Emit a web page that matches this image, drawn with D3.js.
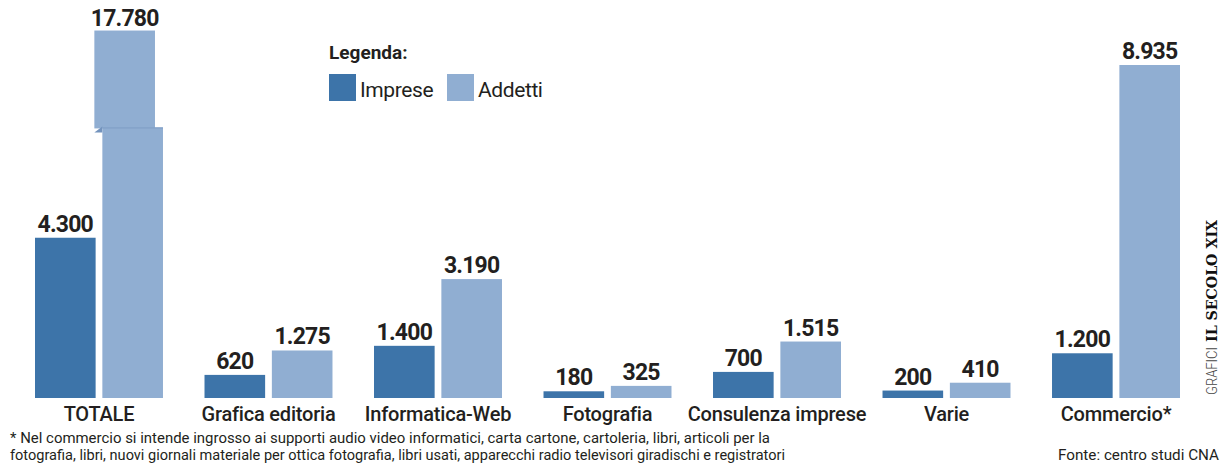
<!DOCTYPE html>
<html>
<head>
<meta charset="utf-8">
<script src="https://cdn.jsdelivr.net/npm/d3@7"></script>
<style>
  body { margin: 0; background: #fff; }
  svg { display: block; }
  text { font-family: Roboto, "Noto Sans", sans-serif; fill: #231f20; }
</style>
</head>
<body>
<svg width="1221" height="467"></svg>
<script>
var categories = ["TOTALE", "Grafica editoria", "Informatica-Web", "Fotografia", "Consulenza imprese", "Varie", "Commercio*"];
var series = ["Imprese", "Addetti"];
var imprese = [4300, 620, 1400, 180, 700, 200, 1200];
var addetti = [17780, 1275, 3190, 325, 1515, 410, 8935];

var footnote = [
  "* Nel commercio si intende ingrosso ai supporti audio video informatici, carta cartone, cartoleria, libri, articoli per la",
  "fotografia, libri, nuovi giornali materiale per ottica fotografia, libri usati, apparecchi radio televisori giradischi e registratori"
];
var source = "Fonte: centro studi CNA";

var svg = d3.select("svg"),
    width = +svg.attr("width"),
    height = +svg.attr("height");

var color = d3.scaleOrdinal().domain(series).range(["#3d74a9", "#90aed2"]);

var it = d3.formatLocale({decimal: ",", thousands: ".", grouping: [3], currency: ["€", ""]});
var fmt = it.format(",");

var data = categories.map(function(c, i) {
  return {cat: c, values: [{key: "Imprese", v: imprese[i]}, {key: "Addetti", v: addetti[i]}]};
});

var x0 = d3.scaleBand()
    .domain(categories)
    .range([35, 1180])
    .paddingInner(0.245)
    .paddingOuter(0);

var x1 = d3.scaleBand()
    .domain(series)
    .range([0, x0.bandwidth()])
    .paddingInner(0.1);

var baseline = 398;
var y = d3.scaleLinear()
    .domain([0, 8935])
    .range([baseline, 65]);

// axis break for the oversized bar
var breakLow = 7260,   // where the lower piece stops
    breakCut = 7920,   // value removed by the break
    breakDx = -8;      // upper piece offset

var g = svg.append("g");

var groups = g.selectAll(".grp")
    .data(data)
  .enter().append("g")
    .attr("class", "grp")
    .attr("transform", function(d) { return "translate(" + x0(d.cat) + ",0)"; });

var bars = groups.selectAll(".bar")
    .data(function(d) { return d.values; })
  .enter().append("g")
    .attr("class", "bar");

function valueLabel(sel, cx, cy, v) {
  sel.append("text")
    .attr("x", cx)
    .attr("y", cy)
    .attr("text-anchor", "middle")
    .style("font-size", "23px")
    .style("font-weight", 700)
    .style("letter-spacing", "-0.8px")
    .text(fmt(v));
}

bars.each(function(d) {
  var sel = d3.select(this),
      bx = x1(d.key),
      bw = x1.bandwidth();
  if (d.v <= y.domain()[1]) {
    sel.append("rect")
      .attr("x", bx)
      .attr("y", y(d.v))
      .attr("width", bw)
      .attr("height", baseline - y(d.v))
      .attr("fill", color(d.key));
    valueLabel(sel, bx + bw / 2, y(d.v) - 6, d.v);
  } else {
    var topY = y(d.v - breakCut),
        cutY = y(breakLow);
    // upper piece
    sel.append("rect")
      .attr("x", bx + breakDx)
      .attr("y", topY)
      .attr("width", bw)
      .attr("height", cutY - topY + 1)
      .attr("fill", color(d.key));
    // little fold
    sel.append("path")
      .attr("d", "M" + (bx + breakDx) + "," + (cutY + 5) + "L" + bx + "," + (cutY - 1) + "L" + bx + "," + (cutY + 5) + "Z")
      .attr("fill", "#7393bd");
    // lower piece
    sel.append("rect")
      .attr("x", bx)
      .attr("y", cutY)
      .attr("width", bw)
      .attr("height", baseline - cutY)
      .attr("fill", color(d.key));
    sel.append("line")
      .attr("x1", bx).attr("x2", bx + bw)
      .attr("y1", cutY + 0.5).attr("y2", cutY + 0.5)
      .attr("stroke", "#7e9cc5");
    valueLabel(sel, bx + breakDx + bw / 2, topY - 5, d.v);
  }
});

// category labels
groups.append("text")
    .attr("x", x0.bandwidth() / 2)
    .attr("y", 421)
    .attr("text-anchor", "middle")
    .style("font-size", "20px")
    .style("font-weight", 500)
    .style("letter-spacing", "-0.2px")
    .text(function(d) { return d.cat; });

// legend
var legend = svg.append("g").attr("transform", "translate(329,0)");
legend.append("text")
    .attr("x", 0)
    .attr("y", 59)
    .style("font-size", "19px")
    .style("font-weight", 700)
    .text("Legenda:");

var li = legend.selectAll(".li")
    .data(series)
  .enter().append("g")
    .attr("class", "li")
    .attr("transform", function(d, i) { return "translate(" + (i * 118) + ",74)"; });
li.append("rect")
    .attr("width", 27)
    .attr("height", 27)
    .attr("fill", function(d) { return color(d); });
li.append("text")
    .attr("x", 31)
    .attr("y", 23)
    .style("font-size", "21px")
    .style("letter-spacing", "-0.4px")
    .text(function(d) { return d; });

// footnote
svg.selectAll(".foot")
    .data(footnote)
  .enter().append("text")
    .attr("class", "foot")
    .attr("x", 10)
    .attr("y", function(d, i) { return 443 + i * 17; })
    .attr("textLength", function(d, i) { return i === 0 ? 760 : 775; })
    .attr("lengthAdjust", "spacingAndGlyphs")
    .style("font-size", "15px")
    .text(function(d) { return d; });

svg.append("text")
    .attr("x", 1219)
    .attr("y", 460)
    .attr("text-anchor", "end")
    .attr("textLength", 161)
    .attr("lengthAdjust", "spacingAndGlyphs")
    .style("font-size", "15px")
    .text(source);

// vertical credit
var credit = svg.append("g").attr("transform", "translate(1217,395) rotate(-90)");
credit.append("text")
    .attr("x", 0)
    .attr("y", 0)
    .attr("textLength", 48)
    .attr("lengthAdjust", "spacingAndGlyphs")
    .style("font-size", "15px")
    .style("font-weight", 300)
    .style("fill", "#444")
    .text("GRAFICI");
credit.append("text")
    .attr("x", 53)
    .attr("y", 0)
    .attr("textLength", 122)
    .attr("lengthAdjust", "spacingAndGlyphs")
    .style("font-family", "'DejaVu Serif', 'Liberation Serif', serif")
    .style("font-size", "15px")
    .style("font-weight", 700)
    .style("fill", "#111")
    .text("IL SECOLO XIX");
</script>
</body>
</html>
